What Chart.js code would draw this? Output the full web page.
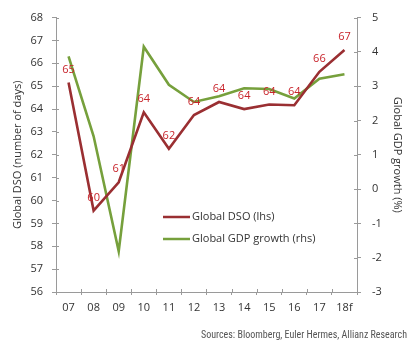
<!DOCTYPE html>
<html>
<head>
<meta charset="utf-8">
<script src="https://cdn.jsdelivr.net/npm/chart.js@4/dist/chart.umd.min.js"></script>
<style>
html,body{margin:0;padding:0;background:#fff;}
#wrap{width:415px;height:346px;position:relative;}
</style>
</head>
<body>
<div id="wrap"><canvas id="c" width="415" height="346"></canvas></div>
<script>
const categories = ['07','08','09','10','11','12','13','14','15','16','17','18f'];
const dsoValues = [65.16, 59.56, 60.8, 63.86, 62.26, 63.74, 64.31, 64.0, 64.2, 64.17, 65.63, 66.58];
const gdpValues = [3.87, 1.54, -1.81, 4.15, 3.04, 2.54, 2.71, 2.94, 2.92, 2.64, 3.22, 3.35];
const leftTicks = {min: 56, max: 68, step: 1};
const rightTicks = {min: -3, max: 5, step: 1};
const sourceText = 'Sources: Bloomberg, Euler Hermes, Allianz Research';

const FONT = "'Open Sans', Lato, sans-serif";
const TXT = '#333333';
const AXIS = '#9a9a9a';
const DSO_COLOR = '#9a2f32';
const GDP_COLOR = '#76a03c';
const LABEL_COLOR = '#c8242b';

const extras = {
  id: 'extras',
  afterDraw(chart) {
    const ctx = chart.ctx;
    ctx.save();
    // inner halves of the tick marks (ticks cross the axis lines)
    ctx.strokeStyle = AXIS;
    ctx.lineWidth = 1;
    const sx = chart.scales.x, sl = chart.scales.yL, sr = chart.scales.yR;
    ctx.beginPath();
    sl.ticks.forEach((t, i) => {
      const y = Math.round(sl.getPixelForTick(i)) + 0.5;
      ctx.moveTo(sl.right, y); ctx.lineTo(sl.right + 3, y);
    });
    sr.ticks.forEach((t, i) => {
      const y = Math.round(sr.getPixelForTick(i)) + 0.5;
      ctx.moveTo(sr.left, y); ctx.lineTo(sr.left - 3, y);
    });
    for (let i = 0; i <= categories.length; i++) {
      const x = Math.round(sx.getPixelForTick(0) - (sx.getPixelForTick(1) - sx.getPixelForTick(0)) / 2 + i * (sx.getPixelForTick(1) - sx.getPixelForTick(0))) + 0.5;
      ctx.moveTo(x, sx.top); ctx.lineTo(x, sx.top - 3);
    }
    ctx.stroke();
    ctx.restore();
  },
  afterDatasetsDraw(chart) {
    const ctx = chart.ctx;
    const meta = chart.getDatasetMeta(0);
    ctx.save();
    ctx.font = '11px ' + FONT;
    ctx.fillStyle = LABEL_COLOR;
    ctx.textAlign = 'center';
    ctx.textBaseline = 'middle';
    meta.data.forEach((pt, i) => {
      ctx.fillText(String(Math.round(dsoValues[i])), pt.x, pt.y - 13);
    });
    // legend
    const items = [
      {label: chart.data.datasets[0].label, color: DSO_COLOR},
      {label: chart.data.datasets[1].label, color: GDP_COLOR}
    ];
    ctx.textAlign = 'left';
    items.forEach((it, k) => {
      const y = 217 + k * 22;
      ctx.strokeStyle = it.color;
      ctx.lineWidth = 2.5;
      ctx.beginPath();
      ctx.moveTo(163, y);
      ctx.lineTo(190, y);
      ctx.stroke();
      ctx.fillStyle = TXT;
      ctx.fillText(it.label, 192, y);
    });
    // source
    ctx.font = "10px 'Liberation Sans Narrow', 'Roboto Condensed', Roboto, sans-serif";
    ctx.fillStyle = '#555555';
    ctx.textAlign = 'right';
    ctx.fillText(sourceText, 407, 335);
    ctx.restore();
  }
};

new Chart(document.getElementById('c'), {
  type: 'line',
  data: {
    labels: categories,
    datasets: [
      {label: 'Global DSO (lhs)', data: dsoValues, yAxisID: 'yL', borderColor: DSO_COLOR, backgroundColor: DSO_COLOR, borderWidth: 2.6, pointRadius: 0, tension: 0},
      {label: 'Global GDP growth (rhs)', data: gdpValues, yAxisID: 'yR', borderColor: GDP_COLOR, backgroundColor: GDP_COLOR, borderWidth: 2.6, pointRadius: 0, tension: 0}
    ]
  },
  options: {
    responsive: false,
    animation: false,
    devicePixelRatio: 1,
    layout: {padding: {top: 10, bottom: 0, left: 0, right: 0}},
    plugins: {legend: {display: false}, tooltip: {enabled: false}},
    scales: {
      x: {
        offset: true,
        grid: {display: true, drawOnChartArea: false, color: AXIS, tickLength: 3, offset: true},
        border: {color: AXIS, width: 1},
        ticks: {color: TXT, font: {family: FONT, size: 11}, padding: 6, maxRotation: 0, autoSkip: false},
        afterFit(s) { s.height = 54; }
      },
      yL: {
        position: 'left',
        min: leftTicks.min, max: leftTicks.max,
        grid: {display: true, drawOnChartArea: false, color: AXIS, tickLength: 4},
        border: {color: AXIS, width: 1},
        ticks: {stepSize: leftTicks.step, color: TXT, font: {family: FONT, size: 11}, padding: 9},
        title: {display: true, text: 'Global DSO (number of days)', color: TXT, font: {family: FONT, size: 11}, padding: {top: 11, bottom: 0}},
        afterFit(s) { s.width = 56; }
      },
      yR: {
        position: 'right',
        min: rightTicks.min, max: rightTicks.max,
        grid: {display: true, drawOnChartArea: false, color: AXIS, tickLength: 4},
        border: {color: AXIS, width: 1},
        ticks: {stepSize: rightTicks.step, color: TXT, font: {family: FONT, size: 11}, padding: 11},
        title: {display: true, text: 'Global GDP growth (%)', color: TXT, font: {family: FONT, size: 11}, padding: {top: 11, bottom: 0}},
        afterFit(s) { s.width = 58; }
      }
    }
  },
  plugins: [extras]
});
</script>
</body>
</html>
